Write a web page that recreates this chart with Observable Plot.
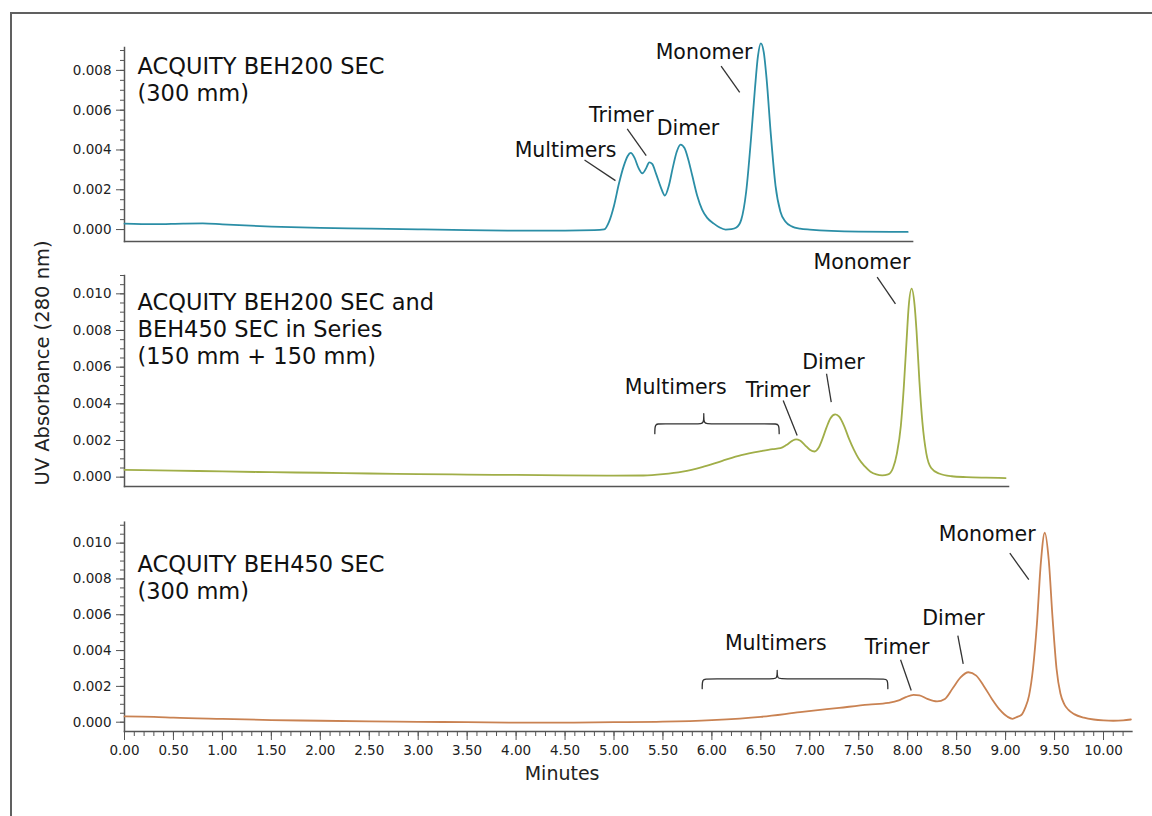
<!DOCTYPE html>
<html><head><meta charset="utf-8">
<script src="https://cdn.jsdelivr.net/npm/d3@7"></script>
<script src="https://cdn.jsdelivr.net/npm/@observablehq/plot@0.6"></script>
<style>
body{margin:0;background:#fff;font-family:"DejaVu Sans",Verdana,sans-serif;}
#fig{position:relative;width:1152px;height:816px;overflow:hidden;background:#fff;}
#border{position:absolute;left:10px;top:12px;width:1200px;height:900px;border-left:2px solid #606060;border-top:2px solid #606060;}
.panel{position:absolute;left:0;}
.panel svg{overflow:visible;}
#ylab{position:absolute;left:42px;top:363px;transform:translate(-50%,-50%) rotate(-90deg);white-space:nowrap;font-size:19.5px;color:#222;}
</style></head>
<body>
<div id="fig">
  <div id="border"></div>
  <div id="p1" class="panel" style="top:0px"></div>
  <div id="p2" class="panel" style="top:245px"></div>
  <div id="p3" class="panel" style="top:500px"></div>
  <div id="ylab">UV Absorbance (280 nm)</div>
</div>
<script>
// ---------- DATA ----------
// Trace 1: ACQUITY BEH200 SEC (300 mm)
const t1 = [0.00,0.30,0.60,0.80,1.00,1.50,2.00,2.50,3.00,3.50,4.00,4.50,4.80,4.90,4.95,5.00,5.05,5.10,5.14,5.17,5.21,5.25,5.29,5.33,5.36,5.39,5.43,5.48,5.52,5.56,5.60,5.64,5.68,5.72,5.76,5.80,5.85,5.90,5.95,6.02,6.08,6.14,6.20,6.25,6.30,6.35,6.40,6.44,6.47,6.50,6.53,6.56,6.60,6.65,6.70,6.75,6.82,6.90,7.00,7.50,8.00];
const v1 = [0.00030,0.00027,0.00030,0.00031,0.00026,0.00015,0.00008,0.00005,0.00001,-0.00003,-0.00005,-0.00005,-0.00003,0.00001,0.00040,0.00120,0.00230,0.00320,0.00370,0.00385,0.00360,0.00310,0.00283,0.00310,0.00338,0.00330,0.00280,0.00210,0.00171,0.00220,0.00310,0.00390,0.00427,0.00410,0.00350,0.00270,0.00170,0.00100,0.00060,0.00030,0.00010,0.00000,0.00002,0.00010,0.00050,0.00190,0.00460,0.00710,0.00870,0.00936,0.00890,0.00750,0.00490,0.00220,0.00090,0.00040,0.00015,0.00005,0.00000,-0.00010,-0.00012];

// Trace 2: ACQUITY BEH200 SEC and BEH450 SEC in series
const t2 = [0.00,0.50,1.00,1.50,2.00,2.50,3.00,3.50,4.00,4.50,5.00,5.30,5.50,5.70,5.90,6.10,6.30,6.50,6.62,6.70,6.76,6.82,6.86,6.90,6.95,7.00,7.05,7.09,7.13,7.17,7.21,7.26,7.30,7.35,7.40,7.45,7.50,7.56,7.62,7.68,7.74,7.80,7.85,7.89,7.93,7.96,7.99,8.01,8.04,8.07,8.09,8.12,8.15,8.19,8.24,8.32,8.45,8.60,8.80,9.00];
const v2 = [0.00040,0.00036,0.00031,0.00027,0.00024,0.00020,0.00017,0.00014,0.00012,0.00010,0.00008,0.00009,0.00016,0.00030,0.00055,0.00088,0.00120,0.00142,0.00153,0.00158,0.00175,0.00198,0.00206,0.00200,0.00175,0.00150,0.00140,0.00160,0.00210,0.00270,0.00320,0.00342,0.00330,0.00280,0.00210,0.00150,0.00100,0.00060,0.00030,0.00015,0.00010,0.00015,0.00050,0.00130,0.00280,0.00490,0.00760,0.00930,0.01028,0.00940,0.00800,0.00520,0.00300,0.00130,0.00050,0.00020,0.00005,0.00000,-0.00003,-0.00005];

// Trace 3: ACQUITY BEH450 SEC (300 mm)
const t3 = [0.00,0.30,0.50,1.00,1.50,2.00,2.50,3.00,3.50,4.00,4.50,5.00,5.50,6.00,6.50,6.90,7.30,7.60,7.80,7.90,7.98,8.06,8.12,8.20,8.30,8.38,8.46,8.54,8.62,8.70,8.78,8.86,8.94,9.02,9.07,9.12,9.16,9.20,9.24,9.28,9.32,9.36,9.40,9.44,9.48,9.52,9.56,9.60,9.64,9.70,9.80,9.90,10.00,10.10,10.20,10.28];
const v3 = [0.00032,0.00030,0.00025,0.00018,0.00012,0.00008,0.00004,0.00002,0.00000,-0.00002,-0.00002,0.00000,0.00003,0.00012,0.00030,0.00056,0.00080,0.00098,0.00108,0.00120,0.00140,0.00153,0.00150,0.00130,0.00116,0.00130,0.00190,0.00250,0.00279,0.00260,0.00200,0.00130,0.00070,0.00030,0.00019,0.00030,0.00040,0.00080,0.00150,0.00300,0.00550,0.00890,0.01058,0.00910,0.00580,0.00300,0.00160,0.00100,0.00070,0.00045,0.00025,0.00015,0.00010,0.00008,0.00010,0.00015];

// Titles
const title1 = "ACQUITY BEH200 SEC\n(300 mm)";
const title2 = "ACQUITY BEH200 SEC and\nBEH450 SEC in Series\n(150 mm + 150 mm)";
const title3 = "ACQUITY BEH450 SEC\n(300 mm)";

// Peak labels [text, minutes, absorbance]
const labels1 = [["Monomer",5.92,0.00891],["Trimer",5.075,0.00573],["Dimer",5.756,0.00508],["Multimers",4.505,0.00397]];
const labels2 = [["Monomer",7.533,0.01171],["Dimer",7.242,0.00627],["Trimer",6.675,0.00473],["Multimers",5.631,0.00491]];
const labels3 = [["Monomer",8.812,0.01047],["Dimer",8.468,0.00578],["Trimer",7.892,0.00419],["Multimers",6.653,0.00438]];

// Leader lines [t1, v1, t2, v2]
const leaders1 = [[6.094,0.00821,6.284,0.00690],[5.135,0.00506,5.329,0.00372],[4.699,0.00350,5.015,0.00246]];
const leaders2 = [[7.688,0.01091,7.875,0.00945],[7.171,0.00564,7.219,0.00409],[6.728,0.00418,6.871,0.00227]];
const leaders3 = [[9.043,0.00944,9.237,0.00796],[8.512,0.00484,8.567,0.00326],[7.927,0.00349,8.036,0.00177]];

// Braces [start, end, middle, bar level, end level, tip level]
const brace2 = [5.417,6.687,5.917,0.00291,0.00237,0.00346];
const brace3 = [5.901,7.797,6.667,0.00242,0.00187,0.00289];

// Ticks
const yMajor1 = [0,0.002,0.004,0.006,0.008];
const yMajor23 = [0,0.002,0.004,0.006,0.008,0.010];
const yMinor1 = d3.range(0,19).map(i => i*0.0005);
const yMinor23 = d3.range(0,23).map(i => i*0.0005);
const xMajor = d3.range(0,21).map(i => i/2);
const xMinor = d3.range(0,103).map(i => i/10);

// ---------- DRAW ----------
const PXMIN = 97.9;  // pixels per minute, shared by all three panels
const ML = 124;

function bracePath([x0,x1,xm,yH,yE,yT]) {
  const d = 0.05;
  return [[x0,yE],[x0,yE],[x0,yE],[x0,yH],[x0+d,yH],[xm-d,yH],[xm,yH],[xm,yT],[xm,yT],[xm,yT],
          [xm,yH],[xm+d,yH],[x1-d,yH],[x1,yH],[x1,yE],[x1,yE],[x1,yE]];
}

function panel(cfg) {
  const data = cfg.t.map((t,i) => ({t, v: cfg.v[i]}));
  const marks = [
    Plot.axisY({ticks: cfg.yMinor, tickSize: 4, tickFormat: () => "", stroke: "#555", label: null}),
    Plot.axisY({ticks: cfg.yMajor, tickSize: 8, tickPadding: 5, tickFormat: d3.format(".3f"), stroke: "#555", label: null, fontSize: 13.5}),
    Plot.frame({anchor: "left", stroke: "#555", strokeWidth: 1.5}),
    Plot.frame({anchor: "bottom", stroke: "#555", strokeWidth: 1.5}),
    Plot.line(data, {x: "t", y: "v", stroke: cfg.color, strokeWidth: 1.8, curve: "monotone-x"}),
    Plot.text([cfg.title], {frameAnchor: "top-left", dx: 13, dy: cfg.titleDy, lineAnchor: "top", textAnchor: "start", fontSize: 22.5, lineHeight: 1.2, fill: "#111"}),
    Plot.text(cfg.labels, {x: d => d[1], y: d => d[2], text: d => d[0], fontSize: 20.5, fill: "#111"}),
    Plot.link(cfg.leaders, {x1: d => d[0], y1: d => d[1], x2: d => d[2], y2: d => d[3], stroke: "#333", strokeWidth: 1.3})
  ];
  if (cfg.brace) marks.push(Plot.line(bracePath(cfg.brace), {x: d => d[0], y: d => d[1], curve: "basis", stroke: "#333", strokeWidth: 1.3}));
  if (cfg.xAxis) {
    marks.push(Plot.axisX({ticks: xMinor, tickSize: 5, tickFormat: () => "", stroke: "#555", label: null}));
    marks.push(Plot.axisX({ticks: xMajor, tickSize: 9, tickPadding: 5, tickFormat: d3.format(".2f"), stroke: "#555", label: null, fontSize: 13.5}));
    marks.push(Plot.text([{t: 4.47, s: "Minutes"}], {x: "t", frameAnchor: "bottom", dy: 48, text: "s", fontSize: 19, fill: "#222"}));
  }
  const svg = Plot.plot({
    width: 1152, height: cfg.height,
    marginTop: cfg.mt, marginBottom: cfg.mb, marginLeft: ML,
    marginRight: 1152 - ML - PXMIN * cfg.xmax,
    x: {domain: [0, cfg.xmax], axis: null},
    y: {domain: [cfg.ymin, cfg.ymax], axis: null},
    style: {fontFamily: "'DejaVu Sans', Verdana, sans-serif", fontSize: "13.5px", color: "#222", background: "transparent", overflow: "visible"},
    marks
  });
  document.getElementById(cfg.id).appendChild(svg);
}

panel({id: "p1", height: 260, mt: 47, mb: 19, xmax: 8.05, ymin: -0.0006, ymax: 0.00915,
  t: t1, v: v1, color: "#2b8ea6", yMajor: yMajor1, yMinor: yMinor1, title: title1, titleDy: 7.5,
  labels: labels1, leaders: leaders1});
panel({id: "p2", height: 255, mt: 30, mb: 14, xmax: 9.03, ymin: -0.00051, ymax: 0.0110,
  t: t2, v: v2, color: "#a0ae48", yMajor: yMajor23, yMinor: yMinor23, title: title2, titleDy: 15.5,
  labels: labels2, leaders: leaders2, brace: brace2});
panel({id: "p3", height: 316, mt: 21.7, mb: 85, xmax: 10.29, ymin: -0.00052, ymax: 0.01117,
  t: t3, v: v3, color: "#c98252", yMajor: yMajor23, yMinor: yMinor23, title: title3, titleDy: 30.2,
  labels: labels3, leaders: leaders3, brace: brace3, xAxis: true});
</script>
</body></html>
